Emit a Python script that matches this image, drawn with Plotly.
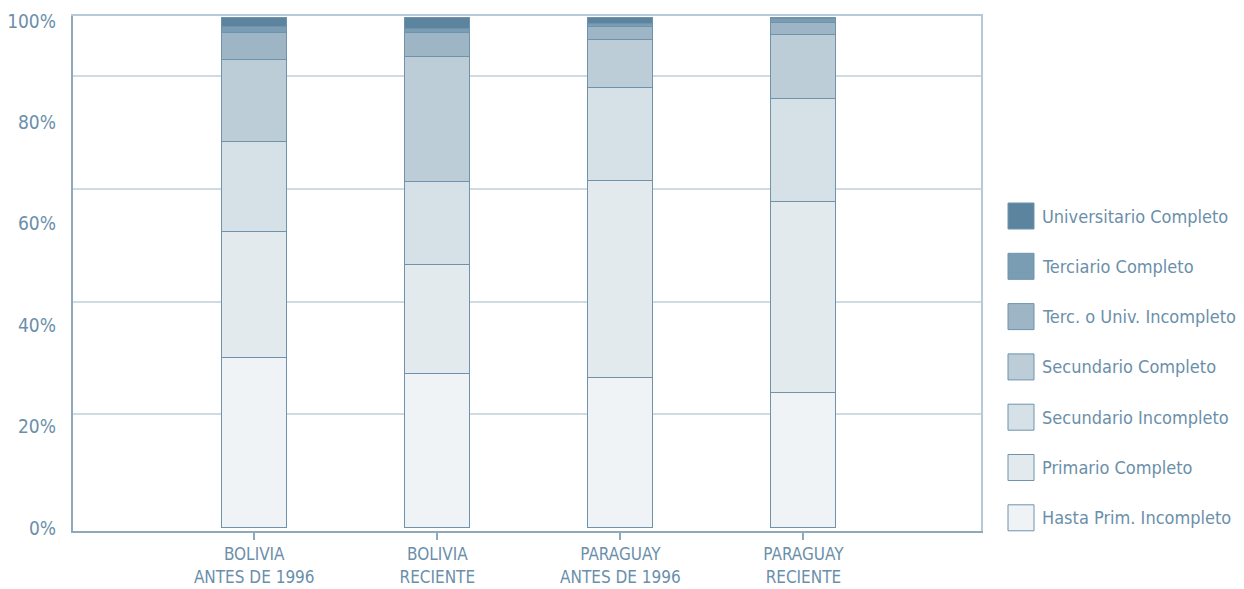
import plotly.graph_objects as go

# --- Data (percent of each group) ---
categories = ["BOLIVIA<br>ANTES DE 1996", "BOLIVIA<br>RECIENTE",
              "PARAGUAY<br>ANTES DE 1996", "PARAGUAY<br>RECIENTE"]

hasta_prim_incompleto = [33.3, 30.2, 29.4, 26.3]
primario_completo = [24.7, 21.2, 38.6, 37.5]
secundario_incompleto = [17.5, 16.3, 18.2, 20.3]
secundario_completo = [16.2, 24.5, 9.4, 12.4]
terc_univ_incompleto = [5.3, 4.8, 2.6, 2.4]
terciario_completo = [1.1, 0.7, 0.5, 0.8]
universitario_completo = [1.9, 2.3, 1.2, 0.3]

y_tick_values = [0, 20, 40, 60, 80, 100]
y_tick_labels = ["0%", "20%", "40%", "60%", "80%", "100%"]
grid_levels = [22.1, 44.2, 66.3, 88.4]

# series order bottom -> top, with fills from light to dark
series = [
    ("Hasta Prim. Incompleto", hasta_prim_incompleto, "#eff3f6"),
    ("Primario Completo", primario_completo, "#e2eaee"),
    ("Secundario Incompleto", secundario_incompleto, "#d5e0e7"),
    ("Secundario Completo", secundario_completo, "#bccdd8"),
    ("Terc. o Univ. Incompleto", terc_univ_incompleto, "#9db5c5"),
    ("Terciario Completo", terciario_completo, "#7b9db4"),
    ("Universitario Completo", universitario_completo, "#5c849f"),
]

TEXT = "#6b8faa"
EDGE = "#6f93ad"
FONT = "DejaVu Sans Condensed, Roboto, sans-serif"

# the page body has an 8px margin, so the figure is shrunk and shifted to compensate
PAGE_PAD = 8
W, H = 1244 - PAGE_PAD, 589 - PAGE_PAD
M = dict(l=73 - PAGE_PAD, r=263, t=16 - PAGE_PAD, b=58)
plot_w = W - M["l"] - M["r"]
plot_h = H - M["t"] - M["b"]

Y_RANGE = [-0.78, 100.2]
# the original's percent labels sit a few px lower than the bar scale
LABEL_RANGE = [-0.59, 100.99]

fig = go.Figure()
for name, vals, color in series:
    fig.add_trace(go.Bar(
        x=categories, y=vals, name=name, showlegend=False,
        width=0.355,
        marker=dict(color=color, line=dict(color=EDGE, width=1)),
    ))

# invisible helper traces so the overlay axes (grid, labels, frame) are drawn
fig.add_trace(go.Scatter(x=categories, y=[None] * len(categories), yaxis="y2",
                         showlegend=False, hoverinfo="skip"))
fig.add_trace(go.Scatter(x=categories, y=[None] * len(categories), yaxis="y4",
                         showlegend=False, hoverinfo="skip"))
fig.add_trace(go.Scatter(x=[None], y=[None], xaxis="x2", yaxis="y3",
                         showlegend=False, hoverinfo="skip"))

fig.update_layout(
    barmode="stack",
    width=W, height=H,
    margin=dict(M, autoexpand=False),
    paper_bgcolor="white", plot_bgcolor="white",
    font=dict(family=FONT, color=TEXT, size=18),
    showlegend=False,
    xaxis=dict(
        range=[-0.99, 3.97], automargin=False,
        showline=True, linecolor="#8ea9bc", linewidth=2,
        ticks="outside", ticklen=7, tickwidth=1.5, tickcolor="#8ea9bc",
        tickfont=dict(size=17, color=TEXT),
        showgrid=False,
    ),
    yaxis=dict(
        range=Y_RANGE, automargin=False,
        showticklabels=False, ticks="",
        showline=True, linecolor="#8ea9bc", linewidth=2,
        showgrid=False, zeroline=False,
    ),
    yaxis2=dict(
        overlaying="y", range=Y_RANGE,
        tickvals=grid_levels, showticklabels=False,
        showgrid=True, gridcolor="#cfdbe3", gridwidth=1.5,
        zeroline=False, showline=False,
    ),
    yaxis4=dict(
        overlaying="y", side="left", range=LABEL_RANGE, automargin=False,
        tickvals=y_tick_values, ticktext=y_tick_labels,
        ticks="", ticklabelstandoff=16, ticklabeloverflow="allow",
        tickfont=dict(size=19, color=TEXT),
        showgrid=False, zeroline=False, showline=False,
    ),
    xaxis2=dict(overlaying="x", side="top", showline=True, linecolor="#b7c9d6",
                linewidth=1.5, showticklabels=False, ticks="", showgrid=False,
                zeroline=False, range=[0, 1]),
    yaxis3=dict(overlaying="y", side="right", showline=True, linecolor="#b7c9d6",
                linewidth=1.5, showticklabels=False, ticks="", showgrid=False,
                zeroline=False, range=[0, 1]),
)

# legend drawn by hand: large swatches, darkest on top (page pixel positions)
sw = 26          # swatch size
row_gap = 50.3   # between legend rows
first_row = 216  # first row centre, from top of page
sw_left = 1008   # swatch left edge, from left of page
for k, (name, _, color) in enumerate(reversed(series)):
    cy = first_row + k * row_gap - PAGE_PAD
    sx = sw_left - PAGE_PAD
    fig.add_shape(type="rect", xref="paper", yref="paper",
                  x0=(sx - M["l"]) / plot_w, x1=(sx + sw - M["l"]) / plot_w,
                  y0=(H - M["b"] - (cy + sw / 2)) / plot_h,
                  y1=(H - M["b"] - (cy - sw / 2)) / plot_h,
                  fillcolor=color, line=dict(color=EDGE, width=1))
    fig.add_annotation(xref="paper", yref="paper",
                       x=(sx + sw + 6 - M["l"]) / plot_w,
                       y=(H - M["b"] - cy) / plot_h,
                       xanchor="left", yanchor="middle", showarrow=False,
                       text=name, font=dict(size=18, color=TEXT))

fig.write_html("out.html")
